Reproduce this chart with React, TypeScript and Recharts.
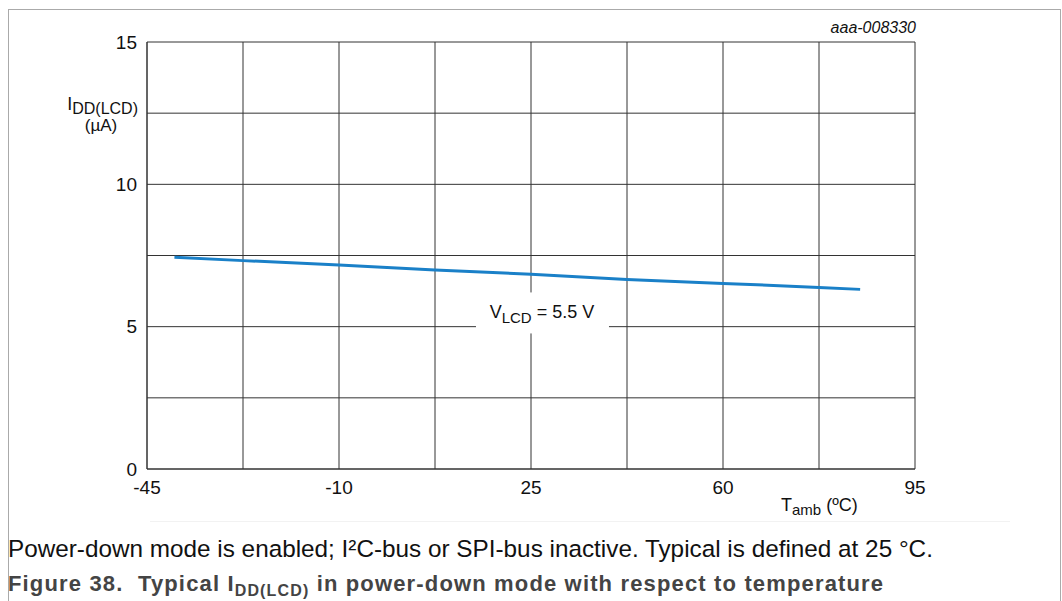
import React from 'react';
import {
    LineChart,
    Line,
    XAxis,
    YAxis,
    CartesianGrid,
    ReferenceDot
} from 'recharts';

// temperature (°C) and IDD(LCD) (µA)
const tempC = [-40, -27.5, -10, 7.5, 25, 42.5, 60, 77.5, 85];
const iddLcd = [7.44, 7.32, 7.17, 6.99, 6.84, 6.66, 6.52, 6.38, 6.31];

const xTicks = [-45, -27.5, -10, 7.5, 25, 42.5, 60, 77.5, 95];
const xLabels = [-45, -10, 25, 60, 95];
const yTicks = [0, 2.5, 5, 7.5, 10, 12.5, 15];
const yLabels = [0, 5, 10, 15];

const seriesName = 'VLCD = 5.5 V';
const docCode = 'aaa-008330';
const noteText = 'Power-down mode is enabled; I²C-bus or SPI-bus inactive. Typical is defined at 25 °C.';

const data = tempC.map((t, i) => ({ t, idd: iddLcd[i] }));

const FONT = 'Arial, "Liberation Sans", Helvetica, sans-serif';

const VLabelBox = (props: any) => {
    const { cx, cy } = props;
    if (cx == null || cy == null) return null;
    return (
        <g>
            <rect x={cx - 66} y={cy - 20} width={133} height={41} fill="#fff" />
            <text x={cx} y={cy + 6} textAnchor="middle" fontSize={18} fontFamily={FONT} fill="#111">
                <tspan>V</tspan>
                <tspan fontSize={15} dy={5}>LCD</tspan>
                <tspan dy={-5}> = 5.5 V</tspan>
            </text>
        </g>
    );
};

const YTitle = (props: any) => {
    const vb = props.viewBox || {};
    const right = vb.x + vb.width - 9;
    return (
        <g fontFamily={FONT} fill="#111">
            <text x={right} y={110} textAnchor="end" fontSize={18}>
                <tspan>I</tspan>
                <tspan fontSize={16} dy={4}>DD(LCD)</tspan>
            </text>
            <text x={101} y={131} textAnchor="middle" fontSize={17}>(µA)</text>
        </g>
    );
};

const XTitle = () => (
    <text x={781} y={511} fontFamily={FONT} fontSize={18} fill="#111">
        <tspan>T</tspan>
        <tspan fontSize={15} dy={4}>amb</tspan>
        <tspan dy={-4}> (ºC)</tspan>
    </text>
);

const App: React.FC = () => {
    return (
        <div style={{ position: 'absolute', left: 0, top: 0, width: 1062, height: 601, background: '#fff', overflow: 'hidden', fontFamily: FONT }}>
            <div style={{ position: 'absolute', left: 8, top: 9, width: 1051, height: 620, border: '1px solid #aaa' }} />
            <div style={{ position: 'absolute', left: 150, top: 521, width: 860, height: 1, background: '#f2f2f2' }} />
            <LineChart
                width={1062}
                height={601}
                data={data}
                margin={{ top: 42, right: 147, left: 87, bottom: 92 }}
                style={{ position: 'absolute', left: 0, top: 0 }}
            >
                <CartesianGrid stroke="#333" strokeDasharray="" />
                <XAxis
                    dataKey="t"
                    type="number"
                    domain={[-45, 95]}
                    ticks={xTicks}
                    interval={0}
                    tickFormatter={(v: number) => (xLabels.includes(v) ? String(v) : '')}
                    tick={{ fill: '#111', fontSize: 19, fontFamily: FONT }}
                    tickSize={0}
                    tickMargin={12}
                    axisLine={{ stroke: '#333' }}
                    height={40}
                    label={{ content: <XTitle /> }}
                />
                <YAxis
                    type="number"
                    domain={[0, 15]}
                    ticks={yTicks}
                    interval={0}
                    tickFormatter={(v: number) => (yLabels.includes(v) ? String(v) : '')}
                    tick={{ fill: '#111', fontSize: 19, fontFamily: FONT }}
                    tickSize={0}
                    tickMargin={10}
                    axisLine={{ stroke: '#333' }}
                    width={60}
                    label={{ content: <YTitle /> }}
                />
                <ReferenceDot x={27} y={5.5} r={0} shape={<VLabelBox />} ifOverflow="visible" />
                <Line
                    type="linear"
                    dataKey="idd"
                    name={seriesName}
                    stroke="#1a80c8"
                    strokeWidth={3}
                    dot={false}
                    isAnimationActive={false}
                />
            </LineChart>
            <div style={{ position: 'absolute', right: 146, top: 19, fontSize: 16, fontStyle: 'italic', color: '#111' }}>
                {docCode}
            </div>
            <div style={{ position: 'absolute', left: 8, top: 535, fontSize: 24.3, color: '#111', whiteSpace: 'nowrap' }}>
                {noteText}
            </div>
            <div style={{ position: 'absolute', left: 8, top: 571, fontSize: 22, letterSpacing: 1.15, fontWeight: 'bold', color: '#444', whiteSpace: 'nowrap' }}>
                Figure 38.&nbsp; Typical I<sub style={{ fontSize: 16, lineHeight: 0 }}>DD(LCD)</sub> in power-down mode with respect to temperature
            </div>
        </div>
    );
};

export default App;
